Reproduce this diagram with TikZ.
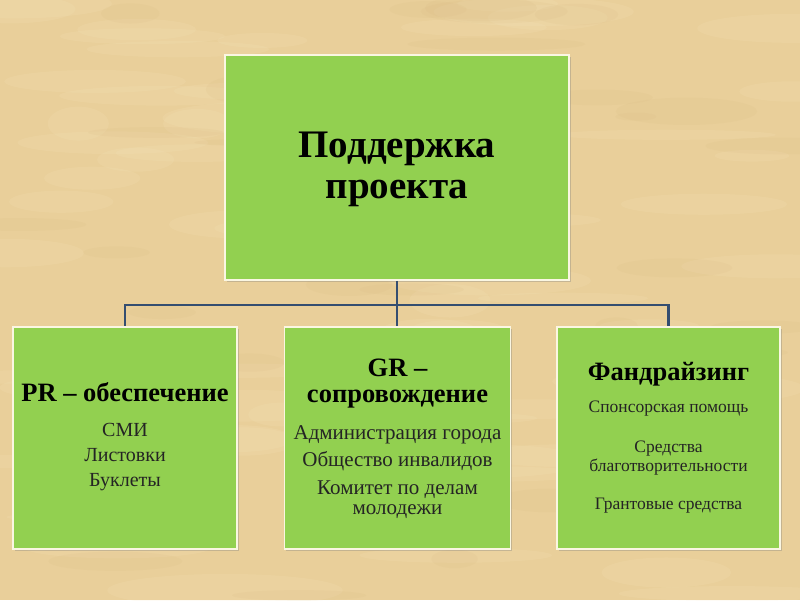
\documentclass[tikz,border=0pt]{standalone}
\usepackage{fontspec}
\setmainfont{Liberation Serif}
\usepackage{tikz}
\usetikzlibrary{shadows}

\definecolor{paper}{RGB}{233,207,154}
\definecolor{paperlight}{RGB}{246,230,190}
\definecolor{paperdark}{RGB}{214,184,128}
\definecolor{boxgreen}{RGB}{146,208,80}
\definecolor{boxrim}{RGB}{250,246,226}
\definecolor{linkblue}{RGB}{52,78,112}
\definecolor{itemgray}{RGB}{36,36,36}

\tikzset{
  boxnode/.style={draw=boxrim, line width=1.5pt, fill=boxgreen, inner sep=0pt,
    drop shadow={shadow xshift=1.5pt, shadow yshift=-1.5pt, opacity=0.35}},
  titletext/.style={font=\fontsize{39}{44}\selectfont\bfseries, anchor=base},
  headtext/.style={font=\fontsize{26.5}{30}\selectfont\bfseries, anchor=base},
  itemtext/.style={font=\fontsize{20}{23}\selectfont, text=itemgray, anchor=base},
  smalltext/.style={font=\fontsize{17.5}{20}\selectfont, text=itemgray, anchor=base},
  link/.style={draw=linkblue, line width=2.5pt}
}

\begin{document}
\begin{tikzpicture}[x=1pt, y=-1pt]
            % parchment background
            \useasboundingbox (0,0) rectangle (800,600);
            \fill [paper] (0,0) rectangle (800,600);
            \pgfmathsetseed{11}
            \foreach \i in {1,...,70}
              \fill [paperlight, opacity=0.16] ({rnd*800},{rnd*600}) ellipse [x radius={30+rnd*90}, y radius={5+rnd*12}];
            \foreach \i in {1,...,40}
              \fill [paperdark, opacity=0.12] ({rnd*800},{rnd*600}) ellipse [x radius={20+rnd*70}, y radius={4+rnd*10}];

            % boxes
            \node [boxnode, minimum width=344, minimum height=225] (support) at (397,167.5) {};
            \node [boxnode, minimum width=224, minimum height=222] (pr) at (125,438) {};
            \node [boxnode, minimum width=226, minimum height=222] (gr) at (397.5,438) {};
            \node [boxnode, minimum width=223, minimum height=222] (fund) at (668.5,438) {};

            % connectors
            \coordinate (fork) at ([yshift=-24pt]support.south);
            \draw [link] (support.south) -- (fork);
            \draw [link] (fork) -| (pr.north);
            \draw [link] (fork) -| (fund.north);
            \draw [link] (fork) -- (fork |- gr.north);

            % top box
            \node [titletext] (title1) at ([yshift=-103pt]support.north) {Поддержка};
            \node [titletext] (title2) at ([yshift=-144pt]support.north) {проекта};

            % PR box
            \node [headtext] (prhead) at ([yshift=-75pt]pr.north) {PR – обеспечение};
            \node [itemtext] (smi) at ([yshift=-110pt]pr.north) {СМИ};
            \node [itemtext] (leaflets) at ([yshift=-135pt]pr.north) {Листовки};
            \node [itemtext] (booklets) at ([yshift=-160pt]pr.north) {Буклеты};

            % GR box
            \node [headtext] (grhead1) at ([yshift=-50pt]gr.north) {GR –};
            \node [headtext] (grhead2) at ([yshift=-76pt]gr.north) {сопровождение};
            \node [itemtext, font=\fontsize{21}{24}\selectfont] (admin) at ([yshift=-113pt]gr.north) {Администрация города};
            \node [itemtext, font=\fontsize{21}{24}\selectfont] (disabled) at ([yshift=-140pt]gr.north) {Общество инвалидов};
            \node [itemtext, font=\fontsize{21}{24}\selectfont] (youth1) at ([yshift=-168pt]gr.north) {Комитет по делам};
            \node [itemtext, font=\fontsize{21}{24}\selectfont] (youth2) at ([yshift=-188pt]gr.north) {молодежи};

            % fundraising box
            \node [headtext] (fundhead) at ([yshift=-54pt]fund.north) {Фандрайзинг};
            \node [smalltext] (sponsor) at ([yshift=-86pt]fund.north) {Спонсорская помощь};
            \node [smalltext] (charity1) at ([yshift=-126pt]fund.north) {Средства};
            \node [smalltext] (charity2) at ([yshift=-145pt]fund.north) {благотворительности};
            \node [smalltext] (grants) at ([yshift=-183pt]fund.north) {Грантовые средства};
\end{tikzpicture}
\end{document}
